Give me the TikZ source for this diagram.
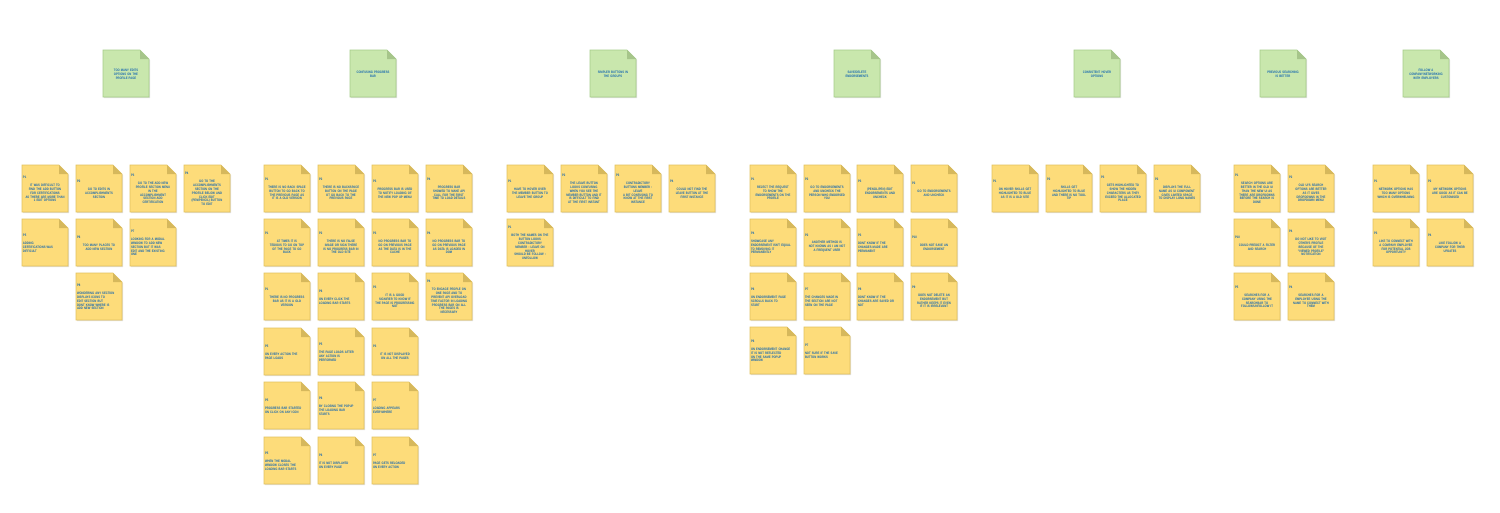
\documentclass[tikz,border=0pt]{standalone}
\usepackage{fontspec}
\setmainfont{Liberation Sans}
\newfontfamily\notefont{Liberation Sans}[FakeStretch=0.8]
\definecolor{notefill}{HTML}{FDDC7A}
\definecolor{noteline}{HTML}{E2C25F}
\definecolor{notefoldc}{HTML}{D6B85C}
\definecolor{hdrfill}{HTML}{C9E7AD}
\definecolor{hdrline}{HTML}{A6CD89}
\definecolor{hdrfoldc}{HTML}{A6C58A}
\definecolor{inkblue}{HTML}{1466B0}
\tikzset{
  notebody/.style={fill=notefill, draw=noteline, line width=0.6pt},
  notefold/.style={fill=notefoldc},
  hdrbody/.style={fill=hdrfill, draw=hdrline, line width=0.6pt},
  hdrfold/.style={fill=hdrfoldc},
  shadowc/.style={fill=black, fill opacity=0.12},
  notetext/.style={inner sep=0pt, text width=44pt, text=inkblue,
    font=\notefont\bfseries\fontsize{3.4}{3.9}\selectfont},
}
% #1 name, #2 x, #3 y, #4 label, #5 align, #6 text
\newcommand\sticky[6]{%
  \fill[shadowc] (#2+1.2,#3+1.2) -- ++(37,0) -- ++(9,9) -- ++(0,38) -- ++(-46,0) -- cycle;
  \draw[notebody] (#2,#3) -- ++(37,0) -- ++(9,9) -- ++(0,38) -- ++(-46,0) -- cycle;
  \fill[notefold] (#2+37,#3) -- ++(0,9) -- ++(9,0) -- cycle;
  \node[notetext, align=#5] (#1) at (#2+23,#3+24) {\hbox to \hsize{#4\hfil}\\[4pt]#6};
}
% #1 name, #2 x, #3 text
\newcommand\hdrnote[3]{%
  \fill[shadowc] (#2+1.2,51.2) -- ++(37,0) -- ++(9,9) -- ++(0,38) -- ++(-46,0) -- cycle;
  \draw[hdrbody] (#2,50) -- ++(37,0) -- ++(9,9) -- ++(0,38) -- ++(-46,0) -- cycle;
  \fill[hdrfold] (#2+37,50) -- ++(0,9) -- ++(9,0) -- cycle;
  \node[notetext, align=center] (#1) at (#2+23,74) {#3};
}
\begin{document}
\begin{tikzpicture}[x=1pt, y=-1pt]
\useasboundingbox (0,0) rectangle (1500,512);
\fill[white] (0,0) rectangle (1500,512);

% headers
\hdrnote{h1}{103}{TOO MANY EDITS\\OPTIONS ON THE\\PROFILE PAGE}
\hdrnote{h2}{350}{CONFUSING PROGRESS\\BAR}
\hdrnote{h3}{590}{SIMPLER BUTTONS IN\\THE GROUPS}
\hdrnote{h4}{834}{SAVE/DELETE\\ENDORSEMENTS}
\hdrnote{h5}{1074}{CONSISTENT HOVER\\OPTIONS}
\hdrnote{h6}{1260}{PREVIOUS SEARCHING\\IS BETTER}
\hdrnote{h7}{1403}{FOLLOW A\\COMPANY/NETWORKING\\WITH EMPLOYERS}

% group 1
\sticky{a1}{22}{165}{P1}{center}{IT WAS DIFFICULT TO\\FIND THE ADD BUTTON\\FOR CERTIFICATIONS\\AS THERE ARE MORE THAN\\1 EDIT OPTIONS}
\sticky{a2}{76}{165}{P2}{center}{GO TO EDITS IN\\ACCOMPLISHMENTS\\SECTION}
\sticky{a3}{130}{165}{P3}{center}{GO TO THE ADD NEW\\PROFILE SECTION MENU\\IN THE\\ACCOMPLISHMENT\\SECTION ADD\\CERTIFICATION}
\sticky{a4}{184}{165}{P4}{center}{GO TO THE\\ACCOMPLISHMENTS\\SECTION ON THE\\PROFILE BELOW AND\\CLICK EDIT\\(PEN/PENCIL) BUTTON\\TO EDIT}
\sticky{a5}{22}{219}{P5}{left}{ADDING\\CERTIFICATIONS WAS\\DIFFICULT}
\sticky{a6}{76}{219}{P6}{center}{TOO MANY PLACES TO\\ADD NEW SECTION}
\sticky{a7}{130}{219}{P7}{left}{LOOKING FOR A MODAL\\WINDOW TO ADD NEW\\SECTION BUT IT WAS\\EDIT AND THE EXISTING\\ONE}
\sticky{a8}{76}{273}{P8}{left}{WONDERING ANY SECTION\\DISPLAYS ICONS TO\\EDIT SECTION BUT\\DONT KNOW WHERE IS\\ADD NEW SECTION}

% group 2
\sticky{b1}{264}{165}{P1}{center}{THERE IS NO BACK SPACE\\BUTTON TO GO BACK TO\\THE PREVIOUS PAGE AS\\IT IS A OLD VERSION}
\sticky{b2}{318}{165}{P2}{center}{THERE IS NO BACKSPACE\\BUTTON ON THE PAGE\\OT GO BACK TO THE\\PREVIOUS PAGE}
\sticky{b3}{372}{165}{P3}{center}{PROGRESS BAR IS USED\\TO NOTIFY LOADING OF\\THE NEW POP UP MENU}
\sticky{b4}{426}{165}{P4}{center}{PROGRESS BAR\\SHOWED TO MAKE API\\CALL FOR THE FIRST\\TIME TO LOAD DETAILS}
\sticky{b5}{264}{219}{P1}{center}{AT TIMES IT IS\\TEDIOUS TO GO ON TOP\\OF THE PAGE TO GO\\BACK}
\sticky{b6}{318}{219}{P2}{center}{THERE IS NO FALSE\\IMAGE OR SIGN THERE\\IS NO PROGRESS BAR IN\\THE OLD SITE}
\sticky{b7}{372}{219}{P3}{center}{NO PROGRESS BAR TO\\GO ON PREVIOUS PAGE\\AS THE DATA IS IN THE\\CACHE}
\sticky{b8}{426}{219}{P4}{center}{NO PROGRESS BAR TO\\GO ON PREVIOUS PAGE\\AS DATA IS LOADED IN\\DOM}
\sticky{b9}{264}{273}{P1}{center}{THERE IS NO PROGRESS\\BAR AS IT IS A OLD\\VERSION}
\sticky{b10}{318}{273}{P6}{left}{ON EVERY CLICK THE\\LOADING BAR STARTS}
\sticky{b11}{372}{273}{P3}{center}{IT IS A GOOD\\SIGNIFIER TO KNOW IF\\THE PAGE IS PROGRESSING\\NOT}
\sticky{b12}{426}{273}{P4}{center}{TO ENGAGE PEOPLE ON\\ONE PAGE AND TO\\PREVENT API OVERLOAD\\TIME FACTOR IN LOADING\\PROGRESS BAR ON ALL\\THE PAGES IS\\NECESSARY}
\sticky{b13}{264}{328}{P5}{left}{ON EVERY ACTION THE\\PAGE LOADS}
\sticky{b14}{318}{328}{P5}{left}{THE PAGE LOADS AFTER\\ANY ACTION IS\\PERFORMED}
\sticky{b15}{372}{328}{P3}{center}{IT IS NOT DISPLAYED\\ON ALL THE PAGES}
\sticky{b16}{264}{382}{P5}{left}{PROGRESS BAR STARTED\\ON CLICK ON ANY ICON}
\sticky{b17}{318}{382}{P6}{left}{BY CLOSING THE POPUP\\THE LOADING BAR\\STARTS}
\sticky{b18}{372}{382}{P7}{left}{LOADING APPEARS\\EVERYWHERE}
\sticky{b19}{264}{437}{P5}{left}{WHEN THE MODAL\\WINDOW CLOSES THE\\LOADING BAR STARTS}
\sticky{b20}{318}{437}{P6}{left}{IT IS NOT DISPLAYED\\ON EVERY PAGE}
\sticky{b21}{372}{437}{P7}{left}{PAGE GETS RELOADED\\ON EVERY ACTION}

% group 3
\sticky{c1}{507}{165}{P1}{center}{HAVE TO HOVER OVER\\THE MEMBER BUTTON TO\\LEAVE THE GROUP}
\sticky{c2}{561}{165}{P2}{center}{THE LEAVE BUTTON\\LOOKS CONFUSING\\WHEN YOU SEE THE\\MEMBER BUTTON AND IT\\IS DIFFICULT TO FIND\\AT THE FIRST INSTANT}
\sticky{c3}{615}{165}{P3}{center}{CONTRADICTORY\\BUTTONS MEMBER :\\LEAVE\\A BIT CONFUSING TO\\KNOW AT THE FIRST\\INSTANCE}
\sticky{c4}{669}{165}{P4}{center}{COULD NOT FIND THE\\LEAVE BUTTON AT THE\\FIRST INSTANCE}
\sticky{c5}{507}{219}{P1}{center}{BOTH THE NAMES ON THE\\BUTTON LOOKS\\CONTRADICTORY\\MEMBER : LEAVE ON\\HOVER\\SHOULD BE FOLLOW :\\UNFOLLOW}

% group 4
\sticky{d1}{750}{165}{P1}{center}{REJECT THE REQUEST\\TO SHOW THE\\ENDORSEMENTS ON THE\\PROFILE}
\sticky{d2}{804}{165}{P2}{center}{GO TO ENDORSEMENTS\\AND UNCHECK THE\\PERSON WHO ENDORSED\\YOU}
\sticky{d3}{857}{165}{P3}{center}{(PENCIL/PEN) EDIT\\ENDORSEMENTS AND\\UNCHECK}
\sticky{d4}{911}{165}{P2}{center}{GO TO ENDORSEMENTS\\AND UNCHECK}
\sticky{d5}{750}{219}{P4}{left}{SHOWCASE ANY\\ENDORSEMENT ISN'T EQUAL\\TO REMOVING IT\\PERMANENTLY}
\sticky{d6}{804}{219}{P2}{center}{ANOTHER METHOD IS\\NOT KNOWN AS I AM NOT\\A FREQUENT USER}
\sticky{d7}{857}{219}{P3}{left}{DONT KNOW IF THE\\CHANGES MADE ARE\\PERMANENT}
\sticky{d8}{911}{219}{P10}{center}{DOES NOT SAVE AN\\ENDORSEMENT}
\sticky{d9}{750}{273}{P6}{left}{ON ENDORSEMENT PAGE\\SCROLLS BACK TO\\START}
\sticky{d10}{804}{273}{P7}{left}{THE CHANGES MADE IN\\THE SECTION ARE NOT\\SEEN ON THE PAGE}
\sticky{d11}{857}{273}{P8}{left}{DONT KNOW IF THE\\CHANGES ARE SAVED OR\\NOT}
\sticky{d12}{911}{273}{P9}{center}{DOES NOT DELETE AN\\ENDORSEMENT BUT\\RATHER KEEPS IT EVEN\\IF IT IS IRRELEVANT}
\sticky{d13}{750}{327}{P6}{left}{ON ENDORSEMENT CHANGE\\IT IS NOT REFLECTED\\ON THE SAME POPUP\\WINDOW}
\sticky{d14}{804}{327}{P7}{left}{NOT SURE IF THE SAVE\\BUTTON WORKS}

% group 5
\sticky{e1}{992}{165}{P1}{center}{ON HOVER SKILLS GET\\HIGHLIGHTED TO BLUE\\AS IT IS A OLD SITE}
\sticky{e2}{1046}{165}{P2}{center}{SKILLS GET\\HIGHLIGHTED TO BLUE\\AND THERE IS NO TOOL\\TIP}
\sticky{e3}{1100}{165}{P3}{center}{GETS HIGHLIGHTED TO\\SHOW THE HIDDEN\\CHARACTERS AS THEY\\EXCEED THE ALLOCATED\\PLACE}
\sticky{e4}{1154}{165}{P2}{center}{DISPLAYS THE FULL\\NAME AS UI COMPONENT\\GIVES LIMITED SPACE\\TO DISPLAY LONG NAMES}

% group 6
\sticky{f1}{1234}{165}{P1}{center}{SEARCH OPTIONS ARE\\BETTER IN THE OLD UI\\THAN THE NEW UI AS\\THERE ARE DROPDOWNS\\BEFORE THE SEARCH IS\\DONE}
\sticky{f2}{1288}{165}{P2}{center}{OLD UI'S SEARCH\\OPTIONS ARE BETTER\\AS IT GIVES\\DROPDOWNS IN THE\\DROPDOWN MENU}
\sticky{f3}{1234}{219}{P10}{center}{COULD PREDICT A FILTER\\AND SEARCH}
\sticky{f4}{1288}{219}{P4}{center}{DO NOT LIKE TO VISIT\\OTHER'S PROFILE\\BECAUSE OF THE\\"VIEWED PROFILE"\\NOTIFICATION}
\sticky{f5}{1234}{273}{P5}{center}{SEARCHES FOR A\\COMPANY USING THE\\SEARCHBAR TO\\FOLLOW/UNFOLLOW IT}
\sticky{f6}{1288}{273}{P4}{center}{SEARCHES FOR A\\EMPLOYEE USING THE\\NAME TO CONNECT WITH\\THEM}

% group 7
\sticky{g1}{1373}{165}{P1}{center}{NETWORK OPTIONS HAS\\TOO MANY OPTIONS\\WHICH IS OVERWHELMING}
\sticky{g2}{1427}{165}{P2}{center}{MY NETWORK OPTIONS\\ARE GOOD AS IT CAN BE\\CUSTOMISED}
\sticky{g3}{1373}{219}{P3}{center}{LIKE TO CONNECT WITH\\A COMPANY EMPLOYEE\\FOR POTENTIAL JOB\\OPPORTUNITY}
\sticky{g4}{1427}{219}{P4}{center}{LIKE FOLLOW A\\COMPANY FOR THEIR\\UPDATES}
\end{tikzpicture}
\end{document}
